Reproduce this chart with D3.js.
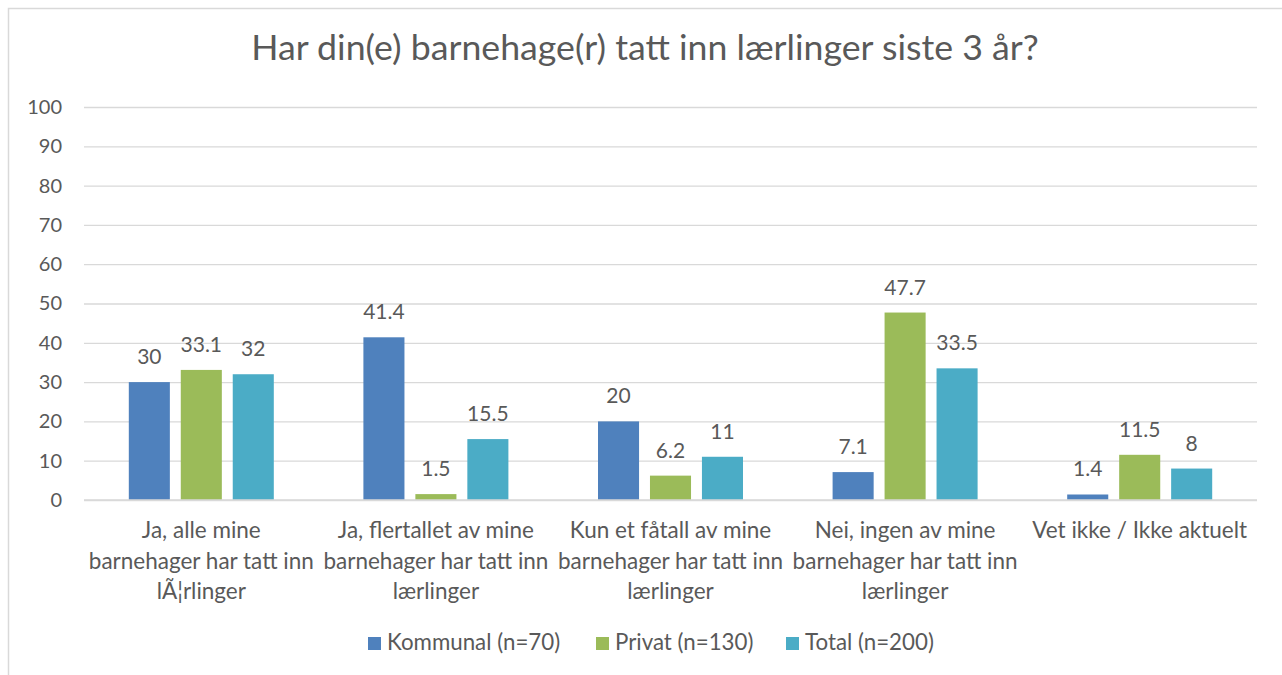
<!DOCTYPE html>
<html>
<head>
<meta charset="utf-8">
<script src="https://cdnjs.cloudflare.com/ajax/libs/d3/7.8.5/d3.min.js"></script>
<style>
  body { margin: 0; background: #fff; }
  text { font-family: Lato, "Open Sans", sans-serif; fill: #595959; }
</style>
</head>
<body>
<div id="chart"></div>
<script>
// data
var categories = [
    ["Ja, alle mine", "barnehager har tatt inn", "lÃ¦rlinger"],
    ["Ja, flertallet av mine", "barnehager har tatt inn", "lærlinger"],
    ["Kun et fåtall av mine", "barnehager har tatt inn", "lærlinger"],
    ["Nei, ingen av mine", "barnehager har tatt inn", "lærlinger"],
    ["Vet ikke / Ikke aktuelt"]
];
var seriesNames = ["Kommunal (n=70)", "Privat (n=130)", "Total (n=200)"];
var kommunal = [30, 41.4, 20, 7.1, 1.4];
var privat = [33.1, 1.5, 6.2, 47.7, 11.5];
var total = [32, 15.5, 11, 33.5, 8];
var yTicks = [0, 10, 20, 30, 40, 50, 60, 70, 80, 90, 100];
var colors = ["#4f81bd", "#9bbb59", "#4bacc6"];
var title = "Har din(e) barnehage(r) tatt inn lærlinger siste 3 år?";

var W = 1282, H = 675;
var margin = { top: 107, right: 25, bottom: 175, left: 84 },
    width = W - margin.left - margin.right,
    height = H - margin.top - margin.bottom;

var svg = d3.select("#chart").append("svg")
    .attr("width", W)
    .attr("height", H);

// outer frame
svg.append("rect")
    .attr("x", 8.5).attr("y", 8.5)
    .attr("width", 1300).attr("height", 700)
    .attr("fill", "none")
    .attr("stroke", "#d9d9d9")
    .attr("stroke-width", 1.5);

svg.append("text")
    .attr("x", 645)
    .attr("y", 60)
    .attr("text-anchor", "middle")
    .style("font-size", "35.7px")
    .text(title);

var g = svg.append("g")
    .attr("transform", "translate(" + margin.left + "," + margin.top + ")");

// scales
var x = d3.scaleBand()
    .domain(d3.range(categories.length))
    .range([0, width]);
var xs = d3.scaleBand()
    .domain(d3.range(seriesNames.length))
    .range([(x.bandwidth() - 145) / 2, (x.bandwidth() + 145) / 2])
    .paddingInner(0.21);
var y = d3.scaleLinear()
    .domain([0, 100])
    .range([height, 0]);

// gridlines + y axis
var yAxis = g.append("g")
    .call(d3.axisLeft(y).tickValues(yTicks).tickSize(-width).tickPadding(22));
yAxis.select(".domain").remove();
yAxis.selectAll(".tick line")
    .attr("stroke", "#d9d9d9")
    .attr("stroke-width", 1.3);
yAxis.selectAll(".tick text")
    .style("font-size", "20px")
    .style("font-family", "Lato, sans-serif")
    .attr("fill", "#595959");

// bars
var rows = categories.map(function (c, i) {
    return [kommunal[i], privat[i], total[i]];
});

var groups = g.selectAll(".cat")
    .data(rows)
    .enter().append("g")
    .attr("class", "cat")
    .attr("transform", function (d, i) { return "translate(" + x(i) + ",0)"; });

groups.selectAll("rect")
    .data(function (d) { return d; })
    .enter().append("rect")
    .attr("x", function (d, j) { return xs(j); })
    .attr("width", xs.bandwidth())
    .attr("y", function (d) { return y(d); })
    .attr("height", function (d) { return height - y(d); })
    .attr("fill", function (d, j) { return colors[j]; });

groups.selectAll(".lbl")
    .data(function (d) { return d; })
    .enter().append("text")
    .attr("class", "lbl")
    .attr("x", function (d, j) { return xs(j) + xs.bandwidth() / 2; })
    .attr("y", function (d) { return y(d) - 18; })
    .attr("text-anchor", "middle")
    .style("font-size", "21px")
    .text(function (d) { return d; });

// baseline
g.append("line")
    .attr("x1", 0).attr("x2", width)
    .attr("y1", height).attr("y2", height)
    .attr("stroke", "#d9d9d9")
    .attr("stroke-width", 1.5);

// category labels
var catLabels = g.selectAll(".catlbl")
    .data(categories)
    .enter().append("text")
    .attr("class", "catlbl")
    .attr("text-anchor", "middle")
    .attr("transform", function (d, i) {
        return "translate(" + (x(i) + x.bandwidth() / 2) + "," + (height + 38) + ")";
    })
    .style("font-size", "22.5px");
catLabels.selectAll("tspan")
    .data(function (d) { return d; })
    .enter().append("tspan")
    .attr("x", 0)
    .attr("y", function (d, k) { return k * 30.5; })
    .text(function (d) { return d; });

// legend
var legendX = [368, 596, 786];
var legend = svg.selectAll(".legend")
    .data(seriesNames)
    .enter().append("g")
    .attr("class", "legend")
    .attr("transform", function (d, i) { return "translate(" + legendX[i] + ",637)"; });
legend.append("rect")
    .attr("width", 13).attr("height", 13)
    .attr("fill", function (d, i) { return colors[i]; });
legend.append("text")
    .attr("x", 19)
    .attr("y", 13)
    .style("font-size", "22.3px")
    .text(function (d) { return d; });
</script>
</body>
</html>
